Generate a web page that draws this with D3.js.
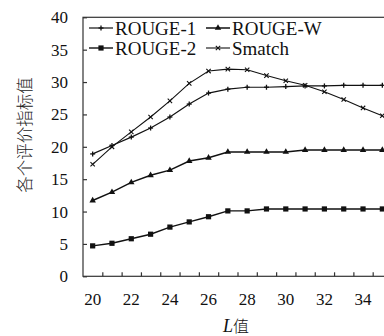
<!DOCTYPE html>
<html>
<head>
<meta charset="utf-8">
<script src="https://cdn.jsdelivr.net/npm/d3@7.9.0/dist/d3.min.js"></script>
<style>
  body { margin: 0; background: #fff; }
</style>
</head>
<body>
<svg id="chart" width="384" height="336"></svg>
<script>
const lengths = [20, 21, 22, 23, 24, 25, 26, 27, 28, 29, 30, 31, 32, 33, 34, 35];
const rouge1 = [18.9, 20.2, 21.5, 22.9, 24.6, 26.6, 28.3, 28.9, 29.2, 29.2, 29.3, 29.4, 29.4, 29.5, 29.5, 29.5];
const rouge2 = [4.7, 5.1, 5.8, 6.5, 7.6, 8.4, 9.2, 10.1, 10.1, 10.4, 10.4, 10.4, 10.4, 10.4, 10.4, 10.4];
const rougeW = [11.7, 13.0, 14.5, 15.6, 16.4, 17.8, 18.3, 19.2, 19.2, 19.2, 19.2, 19.5, 19.5, 19.5, 19.5, 19.5];
const smatch = [17.3, 20.0, 22.3, 24.6, 27.1, 29.8, 31.7, 32.0, 31.9, 31.0, 30.2, 29.5, 28.5, 27.3, 26.0, 24.8];
const yTicks = [0, 5, 10, 15, 20, 25, 30, 35, 40];
const xTickLabels = [20, 22, 24, 26, 28, 30, 32, 34];

const SERIF = '"Liberation Serif", "DejaVu Serif", serif';
const CJK = '"Noto Sans CJK SC", "Noto Sans CJK JP", sans-serif';

const svg = d3.select('#chart');
const mLeft = 83, mRight = 392, mTop = 17.3, mBottom = 276.3;

let x = d3.scaleLinear().domain([19.5, 35.5]).range([mLeft, mRight]);
let y = d3.scaleLinear().domain([0, 40]).range([mBottom, mTop]);

// frame
svg.append('rect')
    .attr('x', mLeft).attr('y', mTop)
    .attr('width', mRight - mLeft).attr('height', mBottom - mTop)
    .attr('fill', 'none').attr('stroke', '#333').attr('stroke-width', 1.2);

// x ticks sit between the points
let halfTicks = d3.range(20.5, 35.5, 1);
svg.append('g')
    .attr('transform', `translate(0,${mBottom})`)
    .call(d3.axisBottom(x).tickValues(halfTicks).tickSize(-4).tickFormat(''))
    .call(g => g.select('.domain').remove())
    .call(g => g.selectAll('line').attr('stroke', '#333').attr('stroke-width', 1.2));

svg.append('g')
    .selectAll('text')
    .data(xTickLabels)
    .join('text')
    .attr('x', d => x(d))
    .attr('y', 305)
    .attr('text-anchor', 'middle')
    .attr('font-family', SERIF)
    .attr('font-size', 17)
    .attr('fill', '#111')
    .text(d => d);

// y axis
svg.append('g')
    .attr('transform', `translate(${mLeft},0)`)
    .call(d3.axisLeft(y).tickValues(yTicks).tickSize(-4).tickFormat(''))
    .call(g => g.select('.domain').remove())
    .call(g => g.selectAll('line').attr('stroke', '#333').attr('stroke-width', 1.2));

svg.append('g')
    .selectAll('text')
    .data(yTicks)
    .join('text')
    .attr('x', 68)
    .attr('y', d => y(d) + 6)
    .attr('text-anchor', 'end')
    .attr('font-family', SERIF)
    .attr('font-size', 17)
    .attr('fill', '#111')
    .text(d => d);

// axis titles
svg.append('text')
    .attr('transform', 'translate(31,135) rotate(-90)')
    .attr('text-anchor', 'middle')
    .attr('font-size', 16.5)
    .attr('font-family', CJK)
    .attr('font-weight', 300)
    .attr('fill', '#222')
    .text('各个评价指标值');

let xt = svg.append('text')
    .attr('x', 236).attr('y', 332)
    .attr('text-anchor', 'middle')
    .attr('font-family', SERIF)
    .attr('font-size', 18)
    .attr('fill', '#111');
xt.append('tspan').attr('font-style', 'italic').text('L');
xt.append('tspan').attr('font-family', CJK).attr('font-weight', 300).attr('font-size', 16).text('值');

// markers
function drawMarker(g, kind, cx, cy) {
    if (kind === 'plus') {
        g.append('line').attr('x1', cx).attr('x2', cx).attr('y1', cy - 2.5).attr('y2', cy + 2.5)
            .attr('stroke', '#111').attr('stroke-width', 1.3);
        g.append('line').attr('x1', cx - 2.5).attr('x2', cx + 2.5).attr('y1', cy).attr('y2', cy)
            .attr('stroke', '#111').attr('stroke-width', 1.3);
    } else if (kind === 'square') {
        g.append('rect').attr('x', cx - 2.6).attr('y', cy - 2.6).attr('width', 5.2).attr('height', 5.2)
            .attr('fill', '#111');
    } else if (kind === 'triangle') {
        g.append('path').attr('d', d3.symbol(d3.symbolTriangle, 18)()).attr('transform', `translate(${cx},${cy})`)
            .attr('fill', '#111');
    } else if (kind === 'cross') {
        g.append('path').attr('d', `M${cx - 2.2},${cy - 2.2}L${cx + 2.2},${cy + 2.2}M${cx - 2.2},${cy + 2.2}L${cx + 2.2},${cy - 2.2}`)
            .attr('stroke', '#111').attr('stroke-width', 1.1);
    }
}

const series = [
    { name: 'ROUGE-1', values: rouge1, marker: 'plus', width: 1.2 },
    { name: 'ROUGE-2', values: rouge2, marker: 'square', width: 1.4 },
    { name: 'ROUGE-W', values: rougeW, marker: 'triangle', width: 1.5 },
    { name: 'Smatch', values: smatch, marker: 'cross', width: 1.1 },
];

let line = d3.line().x(d => x(d[0])).y(d => y(d[1]));

series.forEach(s => {
    let pts = lengths.map((l, i) => [l, s.values[i]]);
    svg.append('path')
        .attr('d', line(pts))
        .attr('fill', 'none')
        .attr('stroke', '#111')
        .attr('stroke-width', s.width);
    let g = svg.append('g');
    pts.forEach(p => drawMarker(g, s.marker, x(p[0]), y(p[1])));
});

// legend
const legendPos = [
    { lx: 89, ly: 28 },
    { lx: 89, ly: 48 },
    { lx: 206, ly: 28 },
    { lx: 206, ly: 48 },
];
series.forEach((s, i) => {
    let p = legendPos[i];
    let g = svg.append('g');
    g.append('line').attr('x1', p.lx).attr('x2', p.lx + 24).attr('y1', p.ly).attr('y2', p.ly)
        .attr('stroke', '#111').attr('stroke-width', s.width);
    drawMarker(g, s.marker, p.lx + 12, p.ly);
    g.append('text').attr('x', p.lx + 26).attr('y', p.ly + 6.5)
        .attr('font-family', SERIF)
        .attr('font-size', 19)
        .attr('fill', '#111')
        .text(s.name);
});
</script>
</body>
</html>
